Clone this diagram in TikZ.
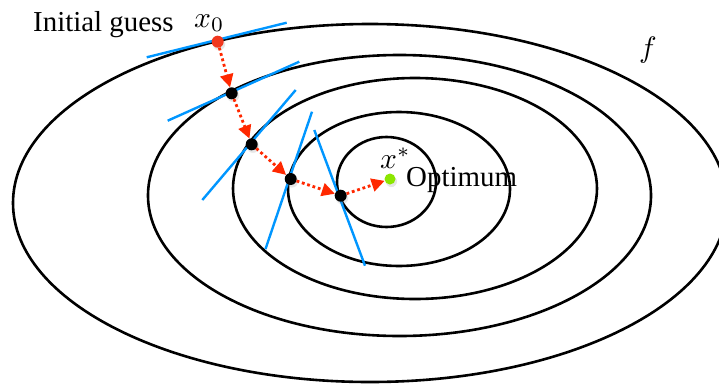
\documentclass[tikz,border=0pt]{standalone}
\usepackage[no-math]{fontspec}
\usepackage{graphicx}
\setmainfont{Liberation Serif}
\usetikzlibrary{arrows.meta,shadows}
\definecolor{tanblue}{RGB}{0,150,255}
\definecolor{steparrow}{RGB}{255,40,0}
\definecolor{startred}{RGB}{240,55,30}
\definecolor{optgreen}{RGB}{140,230,0}
\newcommand{\bigmath}[1]{\scalebox{2.95}{\(#1\)}}
\begin{document}
\begin{tikzpicture}[x=1pt,y=-1pt,
  contour/.style={draw=black,line width=2.6pt},
  tangent/.style={draw=tanblue,line width=2.4pt},
  dotpt/.style={circle,inner sep=0pt,minimum size=12pt,fill=black,
    circular drop shadow={shadow xshift=1pt,shadow yshift=-2pt,opacity=0.2}},
  stepline/.style={draw=steparrow,line width=2.8pt,dash pattern=on 2.8pt off 2.8pt,
    -{Triangle[length=13pt,width=13pt]}},
  lbl/.style={font=\fontsize{28.9}{31}\selectfont,inner sep=0pt},
  mlbl/.style={font=\fontsize{10}{12}\selectfont,inner sep=0pt}
]
\useasboundingbox (0,0) rectangle (719,383);
% level sets
\draw[contour] (370,203) ellipse [x radius=357pt, y radius=179pt];
\draw[contour] (399.5,195.5) ellipse [x radius=251.5pt, y radius=140.5pt];
\draw[contour] (415,188.5) ellipse [x radius=182pt, y radius=110.5pt];
\draw[contour] (399,189) ellipse [x radius=111pt, y radius=77pt];
\draw[contour] (386.5,182) ellipse [x radius=49.5pt, y radius=45pt];
% tangent lines
\coordinate (t0a) at (146.7,57.3);  \coordinate (t0b) at (286.7,22.7);
\coordinate (t1a) at (167.7,120.7); \coordinate (t1b) at (299.3,61.7);
\coordinate (t2a) at (202.3,200);   \coordinate (t2b) at (295.7,90);
\coordinate (t3a) at (265.5,249);   \coordinate (t3b) at (312,111.7);
\coordinate (t4a) at (314.3,130);   \coordinate (t4b) at (365,265.7);
\draw[tangent] (t0a) -- (t0b);
\draw[tangent] (t1a) -- (t1b);
\draw[tangent] (t2a) -- (t2b);
\draw[tangent] (t3a) -- (t3b);
\draw[tangent] (t4a) -- (t4b);
% iterates
\node[dotpt,fill=startred] (x0) at (217.7,41.7) {};
\node[dotpt] (p1) at (231.7,93.3) {};
\node[dotpt] (p2) at (251.7,144.3) {};
\node[dotpt] (p3) at (290.7,179) {};
\node[dotpt] (p4) at (340.7,195.7) {};
\node[dotpt,fill=optgreen,minimum size=11pt] (opt) at (390,179) {};
% steps
\draw[stepline] (x0) -- (p1);
\draw[stepline] (p1) -- (p2);
\draw[stepline] (p2) -- (p3);
\draw[stepline] (p3) -- (p4);
\draw[stepline] (p4) -- (opt);
% labels
\node[lbl,anchor=base west] (guess) at (33,31) {Initial guess};
\node[mlbl,anchor=base west] (x0lbl) at (194,27) {\bigmath{x_0}};
\node[mlbl,anchor=base west] (xstar) at (380,168) {\bigmath{x^*}};
\node[lbl,anchor=base west] (optlbl) at (406,186) {Optimum};
\node[mlbl] (flbl) at (648,50) {\bigmath{f}};
\end{tikzpicture}
\end{document}
